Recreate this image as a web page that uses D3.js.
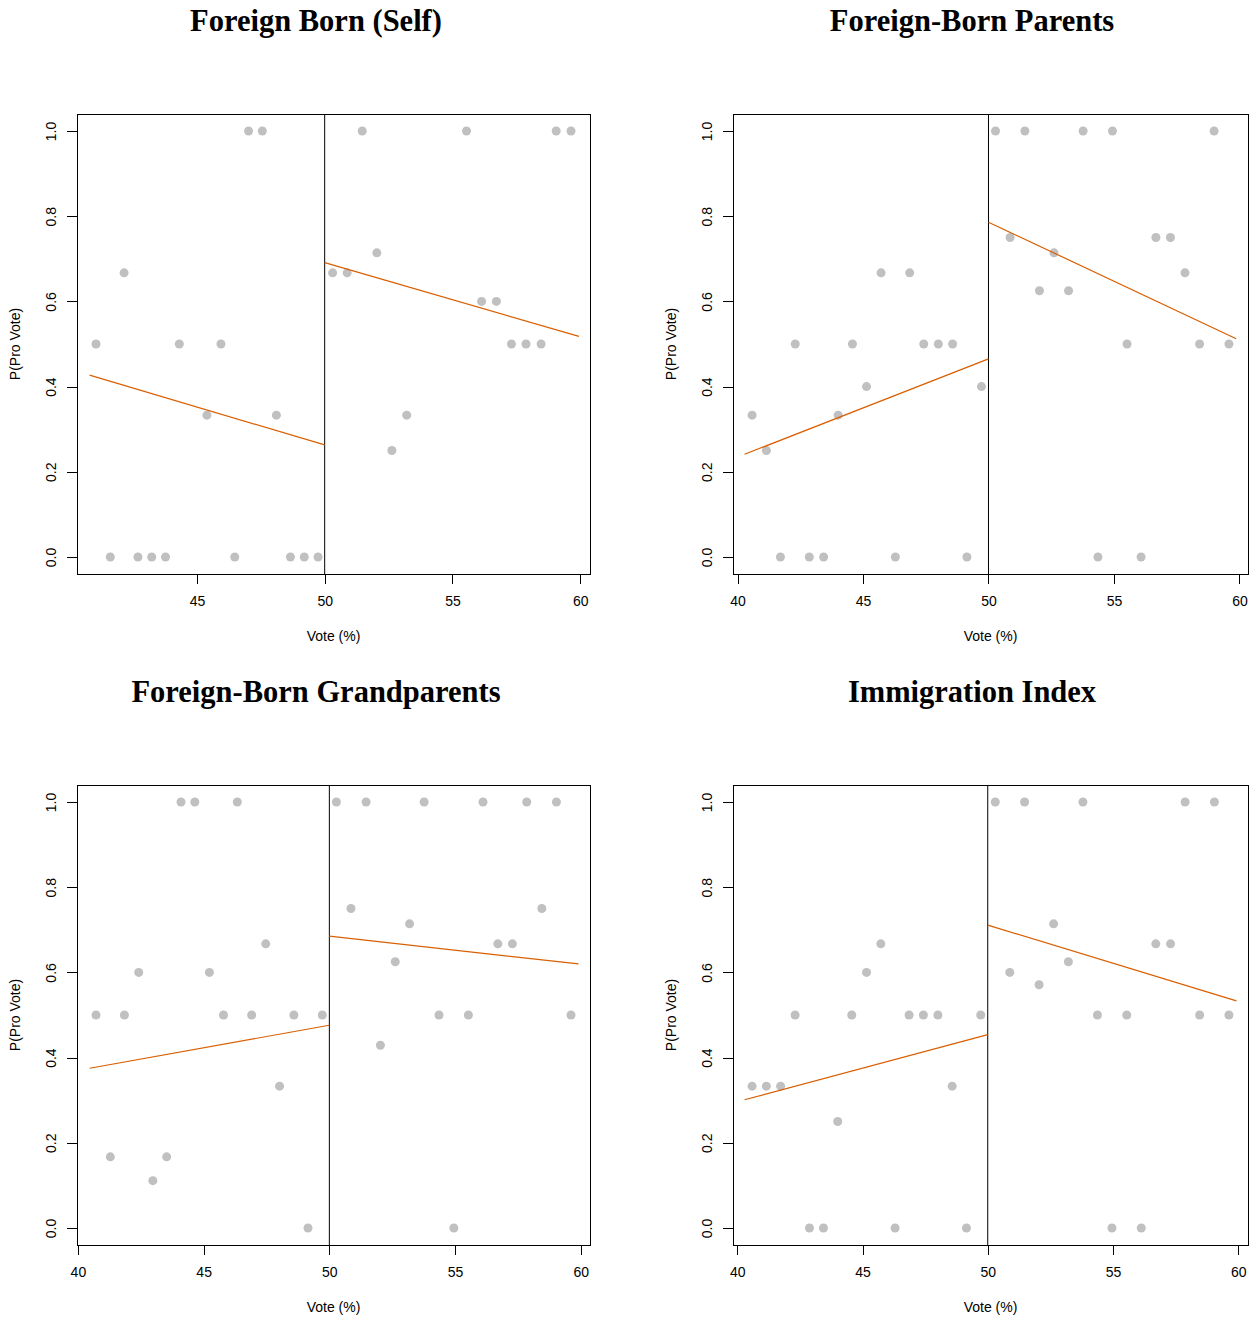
<!DOCTYPE html>
<html>
<head>
<meta charset="utf-8">
<script src="https://cdn.jsdelivr.net/npm/d3@7"></script>
<style>
  body { margin: 0; background: #fff; }
</style>
</head>
<body>
<div id="chart"></div>
<script>
// Panel titles
const titles = [
  "Foreign Born (Self)",
  "Foreign-Born Parents",
  "Foreign-Born Grandparents",
  "Immigration Index"
];

// Vote share (%) and P(Pro Vote) for each panel
const selfX = [41.05, 41.61, 42.15, 42.69, 43.23, 43.77, 44.31, 45.39, 45.94, 46.48, 47.02, 47.56, 48.11, 48.66, 49.20, 49.74,
  50.31, 50.88, 51.47, 52.04, 52.63, 53.21, 55.55, 56.14, 56.72, 57.31, 57.88, 58.47, 59.06, 59.64];
const selfY = [0.5, 0, 0.667, 0, 0, 0, 0.5, 0.333, 0.5, 0, 1, 1, 0.333, 0, 0, 0,
  0.667, 0.667, 1, 0.714, 0.25, 0.333, 1, 0.6, 0.6, 0.5, 0.5, 0.5, 1, 1];

const parentsX = [40.58, 41.15, 41.71, 42.30, 42.86, 43.43, 44.01, 44.58, 45.14, 45.72, 46.29, 46.86, 47.42, 48.00, 48.57, 49.14, 49.72,
  50.28, 50.86, 51.45, 52.03, 52.61, 53.19, 53.77, 54.36, 54.94, 55.52, 56.08, 56.67, 57.25, 57.83, 58.41, 58.99, 59.58];
const parentsY = [0.333, 0.25, 0, 0.5, 0, 0, 0.333, 0.5, 0.4, 0.667, 0, 0.667, 0.5, 0.5, 0.5, 0, 0.4,
  1, 0.75, 1, 0.625, 0.714, 0.625, 1, 0, 1, 0.5, 0, 0.75, 0.75, 0.667, 0.5, 1, 0.5];

const grandX = [40.72, 41.29, 41.85, 42.42, 42.98, 43.53, 44.10, 44.65, 45.23, 45.79, 46.34, 46.91, 47.47, 48.02, 48.59, 49.15, 49.72,
  50.28, 50.86, 51.46, 52.03, 52.62, 53.19, 53.77, 54.36, 54.95, 55.53, 56.11, 56.70, 57.28, 57.85, 58.45, 59.03, 59.61];
const grandY = [0.5, 0.167, 0.5, 0.6, 0.111, 0.167, 1, 1, 0.6, 0.5, 1, 0.5, 0.667, 0.333, 0.5, 0, 0.5,
  1, 0.75, 1, 0.429, 0.625, 0.714, 1, 0.5, 0, 0.5, 1, 0.667, 0.667, 1, 0.75, 1, 0.5];

const indexX = [40.59, 41.16, 41.73, 42.31, 42.88, 43.44, 44.01, 44.57, 45.16, 45.73, 46.30, 46.86, 47.43, 48.01, 48.58, 49.15, 49.72,
  50.30, 50.88, 51.47, 52.05, 52.63, 53.22, 53.80, 54.38, 54.96, 55.55, 56.13, 56.71, 57.30, 57.88, 58.46, 59.05, 59.63];
const indexY = [0.333, 0.333, 0.333, 0.5, 0, 0, 0.25, 0.5, 0.6, 0.667, 0, 0.5, 0.5, 0.5, 0.333, 0, 0.5,
  1, 0.6, 1, 0.571, 0.714, 0.625, 1, 0.5, 0, 0.5, 0, 0.667, 0.667, 1, 0.5, 1, 0.5];

// Fitted lines: [x start, y start, x end, y end] left and right of the cutoff
const selfFit = [[40.80, 0.427, 50, 0.263], [50, 0.691, 59.95, 0.518]];
const parentsFit = [[40.28, 0.241, 50, 0.465], [50, 0.786, 59.87, 0.5125]];
const grandFit = [[40.47, 0.375, 50, 0.476], [50, 0.685, 59.91, 0.620]];
const indexFit = [[40.29, 0.301, 50, 0.454], [50, 0.711, 59.93, 0.533]];

const cutoff = 50;
const yTicks = [0, 0.2, 0.4, 0.6, 0.8, 1.0];

const xs = [selfX, parentsX, grandX, indexX];
const ys = [selfY, parentsY, grandY, indexY];
const fits = [selfFit, parentsFit, grandFit, indexFit];

// Plot box for each panel (pixels)
const boxes = [
  { left: 77, right: 590, top: 114, bottom: 574 },
  { left: 733, right: 1248, top: 114, bottom: 574 },
  { left: 77, right: 590, top: 785, bottom: 1245 },
  { left: 733, right: 1248, top: 785, bottom: 1245 }
];

const pointColor = "#c0c0c0";
const fitColor = "#d95f02";
const sansFont = "'Liberation Sans', Arial, sans-serif";

const svg = d3.select("#chart")
  .append("svg")
  .attr("width", 1257)
  .attr("height", 1321)
  .style("background", "#fff");

boxes.forEach(function (box, i) {
  const data = xs[i].map(function (x, j) {
    return { x: x, y: ys[i][j] };
  });

  // R style axis range: data extent padded by 4%
  const ext = d3.extent(xs[i]);
  const pad = (ext[1] - ext[0]) * 0.04;

  const xScale = d3.scaleLinear()
    .domain([ext[0] - pad, ext[1] + pad])
    .range([box.left, box.right]);

  const yScale = d3.scaleLinear()
    .domain([-0.04, 1.04])
    .range([box.bottom, box.top]);

  const g = svg.append("g");

  // Title
  g.append("text")
    .attr("x", box.left + 239)
    .attr("y", box.top - 83)
    .attr("text-anchor", "middle")
    .style("font-family", "'Liberation Serif', 'Times New Roman', serif")
    .style("font-weight", "bold")
    .style("font-size", "30.5px")
    .text(titles[i]);

  // x axis
  const xAxis = d3.axisBottom(xScale)
    .ticks(5)
    .tickSize(10)
    .tickPadding(12)
    .tickFormat(d3.format("d"));

  const xg = g.append("g")
    .attr("transform", `translate(0, ${box.bottom})`)
    .call(xAxis);
  xg.select(".domain").remove();
  xg.selectAll("line").attr("shape-rendering", "crispEdges");
  xg.selectAll("text")
    .style("font-family", sansFont)
    .style("font-size", "14px")
    .attr("fill", "#000");

  // y axis with rotated labels
  const yAxis = d3.axisLeft(yScale)
    .tickValues(yTicks)
    .tickSize(10)
    .tickFormat(d3.format(".1f"));

  const yg = g.append("g")
    .attr("transform", `translate(${box.left}, 0)`)
    .call(yAxis);
  yg.select(".domain").remove();
  yg.selectAll("line").attr("shape-rendering", "crispEdges");
  yg.selectAll("text")
    .attr("transform", "rotate(-90)")
    .attr("x", 0)
    .attr("y", -21)
    .attr("dy", 0)
    .attr("text-anchor", "middle")
    .style("font-family", sansFont)
    .style("font-size", "14px")
    .attr("fill", "#000");

  // Axis titles
  g.append("text")
    .attr("x", (box.left + box.right) / 2)
    .attr("y", box.bottom + 67)
    .attr("text-anchor", "middle")
    .style("font-family", sansFont)
    .style("font-size", "14px")
    .text("Vote (%)");

  g.append("text")
    .attr("transform", `translate(${box.left - 57}, ${(box.top + box.bottom) / 2}) rotate(-90)`)
    .attr("text-anchor", "middle")
    .style("font-family", sansFont)
    .style("font-size", "14px")
    .text("P(Pro Vote)");

  // Points
  g.selectAll(".pt")
    .data(data)
    .enter()
    .append("circle")
    .attr("class", "pt")
    .attr("cx", function (d) { return xScale(d.x); })
    .attr("cy", function (d) { return yScale(d.y); })
    .attr("r", 4.5)
    .style("fill", pointColor);

  // Cutoff line
  g.append("line")
    .attr("x1", xScale(cutoff))
    .attr("x2", xScale(cutoff))
    .attr("y1", box.top)
    .attr("y2", box.bottom)
    .style("stroke", "#000")
    .style("stroke-width", 1);

  // Fitted lines
  g.selectAll(".fit")
    .data(fits[i])
    .enter()
    .append("line")
    .attr("class", "fit")
    .attr("x1", function (d) { return xScale(d[0]); })
    .attr("y1", function (d) { return yScale(d[1]); })
    .attr("x2", function (d) { return xScale(d[2]); })
    .attr("y2", function (d) { return yScale(d[3]); })
    .style("stroke", fitColor)
    .style("stroke-width", 1.2);

  // Box
  g.append("rect")
    .attr("x", box.left)
    .attr("y", box.top)
    .attr("width", box.right - box.left)
    .attr("height", box.bottom - box.top)
    .attr("shape-rendering", "crispEdges")
    .style("fill", "none")
    .style("stroke", "#000")
    .style("stroke-width", 1);
});
</script>
</body>
</html>
